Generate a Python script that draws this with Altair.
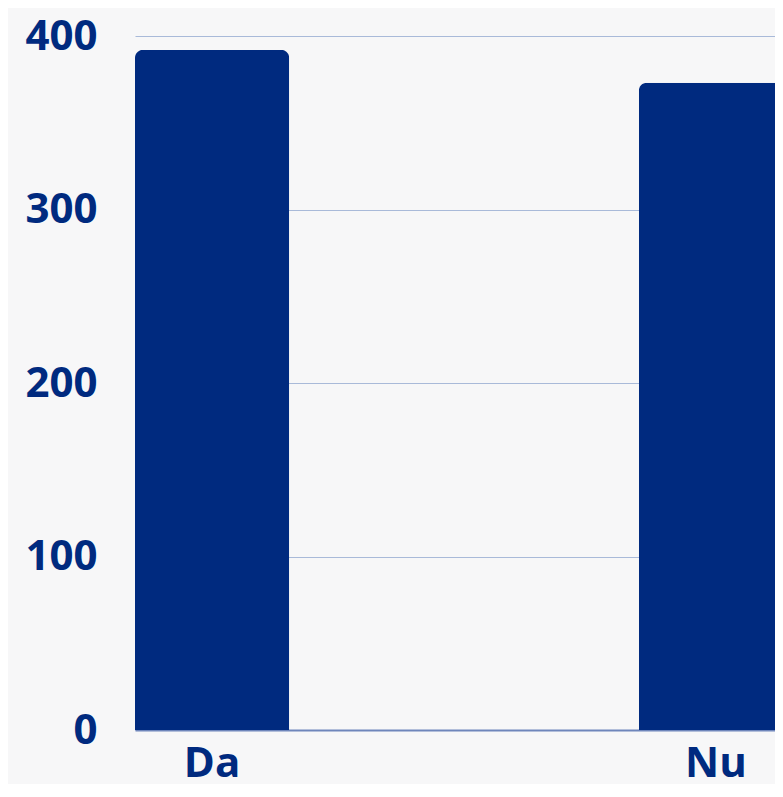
import altair as alt
import pandas as pd

categories = ["Da", "Nu"]
values = [392, 373]
y_ticks = [0, 100, 200, 300, 400]

df = pd.DataFrame({"raspuns": categories, "numar": values})

navy = "#002A7F"
font = "Open Sans"

chart = (
    alt.Chart(df, title=alt.Title(
        "Continuă studiile",
        fontSize=40, font=font, fontWeight="bold", color=navy,
        anchor="middle", frame="group", baseline="alphabetic", offset=31,
    ))
    .mark_bar(color=navy, cornerRadiusTopLeft=8, cornerRadiusTopRight=8)
    .encode(
        x=alt.X("raspuns:N", sort=categories, title=None,
                scale=alt.Scale(range=[0, 658], paddingInner=0.694, paddingOuter=0),
                axis=alt.Axis(labelAngle=0, labelFont=font, labelFontSize=42,
                              labelFontWeight="bold", labelColor=navy,
                              labelPadding=13, ticks=False,
                              domainColor="#6f86bb", domainWidth=2)),
        y=alt.Y("numar:Q", title=None,
                scale=alt.Scale(domain=[0, 400], nice=False),
                axis=alt.Axis(values=y_ticks, labelFont=font, labelFontSize=42,
                              labelFontWeight="bold", labelColor=navy,
                              labelPadding=38, ticks=False, domain=False,
                              gridColor="#a9bad9", gridWidth=1)),
    )
    .properties(
        width=640, height=694,
        autosize=alt.AutoSizeParams(type="none"),
        padding={"left": 127, "top": 28, "right": 0, "bottom": 54},
        background="#f7f7f8",
    )
    .configure_view(stroke=None)
)

chart.save("out.html", embed_options={"renderer": "svg", "actions": False})
